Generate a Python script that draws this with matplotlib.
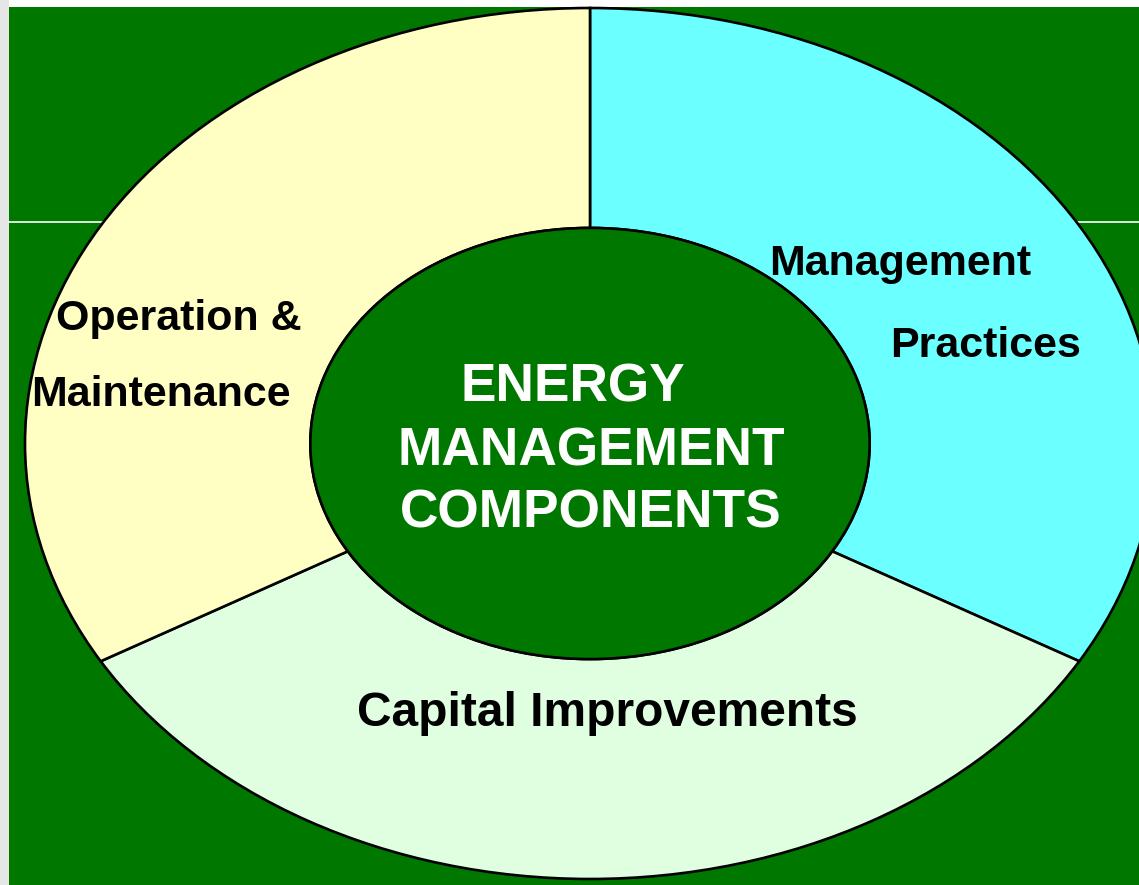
import matplotlib.pyplot as plt
from matplotlib.patches import Circle, Rectangle
from matplotlib.lines import Line2D

# segments of the ring, clockwise from 12 o'clock
segments = ["Management Practices", "Capital Improvements", "Operation & Maintenance"]
shares = [1, 1, 1]
seg_colors = ["#6CFFFF", "#E0FFE0", "#FFFFC4"]
center_lines = ["ENERGY", "MANAGEMENT", "COMPONENTS"]

BG_GREEN = "#007800"
W, H = 1139, 885
INNER = 0.495

plt.rcParams["font.family"] = ["Liberation Sans", "DejaVu Sans"]
plt.rcParams["font.weight"] = "bold"


def fx(px):
    return px / W


def fy(py):
    return 1 - py / H


fig = plt.figure(figsize=(W / 100, H / 100), dpi=100, facecolor="white")

# slide background
fig.patches.append(Rectangle((0, 0), fx(9), 1, transform=fig.transFigure, facecolor="#E6E6E6", zorder=-5))
fig.patches.append(Rectangle((fx(9), 0), 1, fy(7), transform=fig.transFigure, facecolor=BG_GREEN, zorder=-4))
fig.lines.append(Line2D([fx(9), 1], [fy(222), fy(222)], transform=fig.transFigure, color="white", lw=1.2, zorder=-3))

ax = fig.add_axes([0, 0, 1, 1])
ax.patch.set_alpha(0)
ax.pie(
    shares,
    colors=seg_colors,
    startangle=90,
    counterclock=False,
    radius=1.0,
    wedgeprops={"width": 1 - INNER, "edgecolor": "black", "linewidth": 1.9},
)
ax.add_patch(Circle((0, 0), INNER, facecolor=BG_GREEN, edgecolor="black", linewidth=1.9, zorder=3))
ax.set_aspect("auto")
# outer ring spans 565 px wide / 435.5 px tall around pixel (590, 443.5)
ax.set_xlim((0 - 590) / 565, (W - 590) / 565)
ax.set_ylim((443.5 - H) / 435.5, 443.5 / 435.5)
ax.axis("off")

lbl = dict(color="black", fontweight="bold", va="center", ha="left")
fig.text(fx(56), fy(319), "Operation &", fontsize=31, **lbl)
fig.text(fx(31), fy(395), "Maintenance", fontsize=31, **lbl)
fig.text(fx(769), fy(264), "Management", fontsize=31, **lbl)
fig.text(fx(890), fy(346), "Practices", fontsize=31, **lbl)
fig.text(fx(607), fy(714), "Capital Improvements", fontsize=34.5, color="black",
         fontweight="bold", ha="center", va="center")

for txt, cx, cy in zip(center_lines, [573, 591, 591], [387, 451, 514]):
    fig.text(fx(cx), fy(cy), txt, fontsize=38.3, color="white", fontweight="bold",
             ha="center", va="center")

fig.savefig("out.png", dpi=100, facecolor=fig.get_facecolor())
